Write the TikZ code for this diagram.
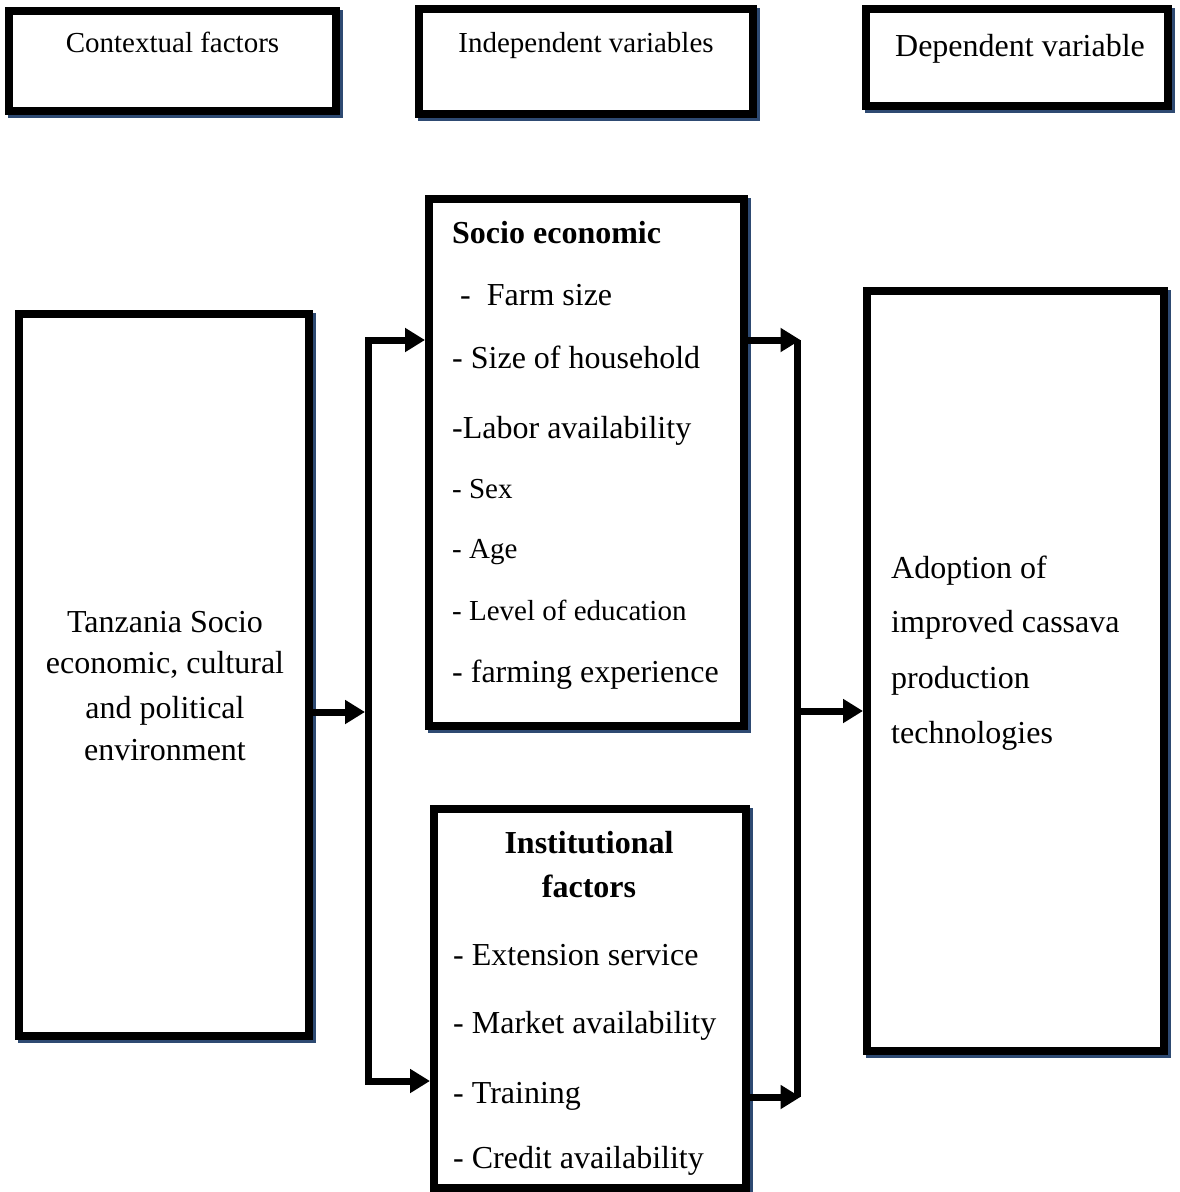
\documentclass[tikz,border=0pt]{standalone}
\usepackage{fontspec}
\setmainfont{Liberation Serif}
\usetikzlibrary{arrows.meta}
\definecolor{shadowblue}{HTML}{2E4A72}
\tikzset{
  box/.style={draw=black, line width=8pt, fill=white, inner sep=0pt,
    preaction={draw=shadowblue, line width=8pt, transform canvas={xshift=3pt,yshift=-3pt}}},
  big/.style={font=\fontsize{32}{38}\selectfont, inner sep=0pt},
  small/.style={font=\fontsize{29}{35}\selectfont, inner sep=0pt},
  conn/.style={line width=7pt, draw=black},
  arr/.style={conn, -{Triangle[length=20pt,width=23pt]}}
}
\begin{document}
\begin{tikzpicture}[x=1pt,y=-1pt]
\useasboundingbox (0,0) rectangle (1179,1192);
% header boxes
\node[box, minimum width=327pt, minimum height=100pt] (ctx) at (172.5,61) {};
\node[box, minimum width=334pt, minimum height=105pt] (ind) at (586,61.5) {};
\node[box, minimum width=302pt, minimum height=97pt] (dep) at (1017,57.5) {};
\node[small, anchor=base] (ctxt) at (172.5,52) {Contextual factors};
\node[small, anchor=base] (indt) at (586,52) {Independent variables};
\node[big, anchor=base] (dept) at (1020,56) {Dependent variable};
% main boxes
\node[box, minimum width=290pt, minimum height=722pt] (left) at (164,675) {};
\node[box, minimum width=315pt, minimum height=527pt] (socio) at (586.5,462.5) {};
\node[box, minimum width=312pt, minimum height=379pt] (inst) at (590,998.5) {};
\node[box, minimum width=297pt, minimum height=760pt] (right) at (1015.5,671) {};
% left box text
\node[big, anchor=base] (l1) at (165,632) {Tanzania Socio};
\node[big, anchor=base] (l2) at (165,673) {economic, cultural};
\node[big, anchor=base] (l3) at (165,718) {and political};
\node[big, anchor=base] (l4) at (165,760) {environment};
% socio economic text
\node[big, anchor=base west] (s0) at (452,243) {\bfseries Socio economic};
\node[big, anchor=base west] (s1) at (460,305) {-\ \ Farm size};
\node[big, anchor=base west] (s2) at (452,368) {- Size of household};
\node[big, anchor=base west] (s3) at (452,438) {-Labor availability};
\node[small, anchor=base west] (s4) at (452,498) {- Sex};
\node[small, anchor=base west] (s5) at (452,558) {- Age};
\node[small, anchor=base west] (s6) at (452,620) {- Level of education};
\node[big, anchor=base west] (s7) at (452,682) {- farming experience};
% institutional text
\node[big, anchor=base] (i0) at (589,853) {\bfseries Institutional};
\node[big, anchor=base] (i1) at (589,897) {\bfseries factors};
\node[big, anchor=base west] (i2) at (453,965) {- Extension service};
\node[big, anchor=base west] (i3) at (453,1033) {- Market availability};
\node[big, anchor=base west] (i4) at (453,1103) {- Training};
\node[big, anchor=base west] (i5) at (453,1168) {- Credit availability};
% right box text
\node[big, anchor=base west] (r1) at (891,578) {Adoption of};
\node[big, anchor=base west] (r2) at (891,632) {improved cassava};
\node[big, anchor=base west] (r3) at (891,688) {production};
\node[big, anchor=base west] (r4) at (891,743) {technologies};
% connectors
\coordinate (jlt) at (368.5,340);
\coordinate (jlm) at (368.5,712);
\coordinate (jlb) at (368.5,1081);
\coordinate (jrt) at (797,340);
\coordinate (jrm) at (797,711);
\coordinate (jrb) at (797,1097);
\draw[arr, shorten >=3.5pt] (left.east |- jlm) -- (jlm);
\draw[arr] (jlb) -- (jlt) -- (socio.west |- jlt);
\draw[arr] (jlt) -- (jlb) -- (inst.west |- jlb);
\draw[conn] (jrt) -- (jrb);
\draw[arr] (socio.east |- jrt) -- ([xshift=3.5pt]jrt);
\draw[arr] (inst.east |- jrb) -- ([xshift=3.5pt]jrb);
\draw[arr] (jrm) -- (right.west |- jrm);
\end{tikzpicture}
\end{document}
